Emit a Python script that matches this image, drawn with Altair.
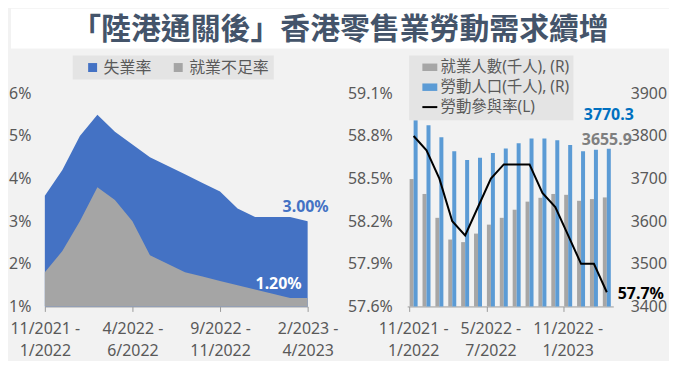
import altair as alt
import pandas as pd

TITLE = "「陸港通關後」香港零售業勞動需求續增"

periods = [
    "11/2021 - 1/2022", "12/2021 - 2/2022", "1/2022 - 3/2022", "2/2022 - 4/2022",
    "3/2022 - 5/2022", "4/2022 - 6/2022", "5/2022 - 7/2022", "6/2022 - 8/2022",
    "7/2022 - 9/2022", "8/2022 - 10/2022", "9/2022 - 11/2022", "10/2022 - 12/2022",
    "11/2022 - 1/2023", "12/2022 - 2/2023", "1/2023 - 3/2023", "2/2023 - 4/2023",
]
unemployment = [3.6, 4.2, 5.0, 5.5, 5.1, 4.8, 4.5, 4.3, 4.1, 3.9, 3.7, 3.3, 3.1, 3.1, 3.1, 3.0]
underemployment = [1.8, 2.3, 3.0, 3.8, 3.5, 3.0, 2.2, 2.0, 1.8, 1.7, 1.6, 1.5, 1.4, 1.3, 1.2, 1.2]
participation = [58.8, 58.7, 58.5, 58.2, 58.1, 58.3, 58.5, 58.6, 58.6, 58.6, 58.4, 58.3, 58.1, 57.9, 57.9, 57.7]
labour_force = [3837, 3825, 3797, 3764, 3744, 3749, 3760, 3771, 3783, 3794, 3794, 3790, 3779, 3764, 3768, 3770.3]
employed = [3699, 3664, 3608, 3557, 3551, 3571, 3592, 3608, 3627, 3646, 3655, 3664, 3662, 3648, 3652, 3655.9]

left_ticks = [periods[0], periods[5], periods[10], periods[15]]
right_ticks = [periods[0], periods[6], periods[12]]
left_y_ticks = [1, 2, 3, 4, 5, 6]
rate_ticks = [57.6, 57.9, 58.2, 58.5, 58.8, 59.1]
count_ticks = [3400, 3500, 3600, 3700, 3800, 3900]

S_UNEMP, S_UNDER = "失業率", "就業不足率"
S_EMP, S_LF, S_RATE = "就業人數(千人), (R)", "勞動人口(千人), (R)", "勞動參與率(L)"

FONT = "'Noto Sans', 'Noto Sans CJK TC', sans-serif"
TXT = "#595959"
AX = "#9a9a9a"
LABEL_EXPR = "split(replace(datum.label, ' - ', ' -|'), '|')"

# left panel: the y labels sit inside the panel so the panel's left edge is the page edge
L_W, L_PLOT0 = 298, 34

# ---------- title ----------
title_df = pd.DataFrame({"t": [TITLE]})
title_chart = alt.Chart(title_df).mark_text(
    font=FONT, fontSize=30, fontWeight="bold", color="#44546a", baseline="middle", dy=1
).encode(text="t:N").properties(
    width=661, height=40, view=alt.ViewBackground(fill="white", strokeOpacity=0)
)

# ---------- left panel ----------
left_df = pd.DataFrame({
    "period": periods * 2,
    "series": [S_UNEMP] * len(periods) + [S_UNDER] * len(periods),
    "value": unemployment + underemployment,
})

xl = alt.X("period:N", sort=periods,
           scale=alt.Scale(type="point", padding=0, range=[L_PLOT0, L_W]),
           axis=alt.Axis(values=left_ticks, labelExpr=LABEL_EXPR, labelAngle=0,
                         labelLineHeight=22, labelPadding=9, tickSize=5,
                         domainColor=AX, tickColor=AX, title=None, grid=False))
yl_axis = alt.Axis(values=left_y_ticks, labelExpr="datum.value + '%'", offset=-L_PLOT0,
                   domain=False, ticks=False, grid=False, title=None, labelPadding=14)
yl = alt.Y("value:Q", scale=alt.Scale(domain=[1, 6], nice=False, zero=False), axis=yl_axis)
color_l = alt.Color("series:N",
                    scale=alt.Scale(domain=[S_UNEMP, S_UNDER], range=["#4472c4", "#a5a5a5"]),
                    legend=alt.Legend(title=None, orient="none", legendX=L_PLOT0 + 28, legendY=-38,
                                      direction="horizontal", fillColor="#e4e4e4",
                                      padding=4, symbolType="square", symbolSize=81,
                                      symbolOffset=8, labelOffset=3,
                                      labelFontSize=16, labelColor=TXT, columnPadding=10,
                                      symbolStrokeWidth=0))

area_u = alt.Chart(left_df).transform_filter(alt.datum.series == S_UNEMP).mark_area().encode(
    x=xl, y=yl, y2=alt.datum(1), color=color_l)
area_g = alt.Chart(left_df).transform_filter(alt.datum.series == S_UNDER).mark_area().encode(
    x=xl, y=yl, y2=alt.datum(1), color=color_l)

last_l = pd.DataFrame({
    "period": [periods[-1], periods[-1]],
    "value": [unemployment[-1], underemployment[-1]],
    "label": [f"{unemployment[-1]:.2f}%", f"{underemployment[-1]:.2f}%"],
})
lab_u = alt.Chart(last_l.iloc[[0]]).mark_text(
    font=FONT, fontSize=16, fontWeight="bold", color="#4472c4", align="center",
    baseline="middle", dx=-2, dy=-14).encode(x=xl, y=yl, text="label:N")
lab_g = alt.Chart(last_l.iloc[[1]]).mark_text(
    font=FONT, fontSize=16, fontWeight="bold", color="white", align="right",
    baseline="middle", dx=-6, dy=-14).encode(x=xl, y=yl, text="label:N")

left = alt.layer(area_u, area_g, lab_u, lab_g).properties(width=L_W, height=214)

# ---------- right panel ----------
bars_df = pd.DataFrame({
    "period": periods * 2,
    "series": [S_EMP] * len(periods) + [S_LF] * len(periods),
    "value": employed + labour_force,
})
rate_df = pd.DataFrame({"period": periods, "series": [S_RATE] * len(periods), "value": participation})

xr = alt.X("period:N", sort=periods,
           scale=alt.Scale(type="band", paddingInner=0.38, paddingOuter=0.19),
           axis=alt.Axis(values=right_ticks, labelExpr=LABEL_EXPR, labelAngle=0,
                         labelLineHeight=22, labelPadding=9, tickSize=5, bandPosition=0,
                         domainColor=AX, tickColor=AX, title=None, grid=False))
count_scale = alt.Scale(domain=[3400, 3900], nice=False, zero=False)
rate_scale = alt.Scale(domain=[57.6, 59.1], nice=False, zero=False)
count_axis = alt.Axis(orient="right", values=count_ticks, format="d", domain=False,
                      ticks=False, grid=False, title=None, labelPadding=17)
rate_axis = alt.Axis(orient="left", values=rate_ticks,
                     labelExpr="format(datum.value, '.1f') + '%'", domain=False,
                     ticks=False, grid=False, title=None, labelPadding=15)

is_line = f"datum.value === '{S_RATE}'"
color_r = alt.Color("series:N",
                    scale=alt.Scale(domain=[S_EMP, S_LF, S_RATE],
                                    range=["#a6a6a6", "#5b9bd5", "#000000"]),
                    legend=alt.Legend(title=None, orient="none", legendX=2, legendY=-38,
                                      direction="vertical", fillColor="#e4e4e4",
                                      padding=4, rowPadding=3, symbolSize=225,
                                      symbolOffset=9, labelOffset=3,
                                      symbolType={"expr": f"{is_line} ? 'stroke' : 'M-1,-0.5H1V0.5H-1Z'"},
                                      symbolStrokeWidth={"expr": f"{is_line} ? 2 : 0"},
                                      labelFontSize=15.5, labelColor=TXT))

bars = alt.Chart(bars_df).mark_bar().encode(
    x=xr,
    xOffset=alt.XOffset("series:N", sort=[S_EMP, S_LF],
                        scale=alt.Scale(paddingInner=0, paddingOuter=0)),
    y=alt.Y("value:Q", scale=count_scale, axis=count_axis),
    y2=alt.datum(3400),
    color=color_r,
)
last_r = pd.DataFrame({
    "period": [periods[-1], periods[-1]],
    "value": [labour_force[-1], employed[-1]],
    "label": [f"{labour_force[-1]:.1f}", f"{employed[-1]:.1f}"],
})
lab_lf = alt.Chart(last_r.iloc[[0]]).mark_text(
    font=FONT, fontSize=16, fontWeight="bold", color="#0070c0", align="center",
    baseline="middle", dx=2, dy=-34).encode(
    x=xr, y=alt.Y("value:Q", scale=count_scale, axis=count_axis), text="label:N")
lab_emp = alt.Chart(last_r.iloc[[1]]).mark_text(
    font=FONT, fontSize=16, fontWeight="bold", color="#7f7f7f", align="center",
    baseline="middle", dx=0, dy=-58).encode(
    x=xr, y=alt.Y("value:Q", scale=count_scale, axis=count_axis), text="label:N")

line = alt.Chart(rate_df).mark_line(strokeWidth=2).encode(
    x=xr,
    y=alt.Y("value:Q", scale=rate_scale, axis=rate_axis),
    color=color_r,
)
last_rate = pd.DataFrame({"period": [periods[-1]], "value": [participation[-1]],
                          "label": [f"{participation[-1]:.1f}%"]})
lab_rate = alt.Chart(last_rate).mark_text(
    font=FONT, fontSize=16, fontWeight="bold", color="#000000", align="left",
    baseline="middle", dx=11, dy=2).encode(
    x=xr, y=alt.Y("value:Q", scale=rate_scale, axis=rate_axis), text="label:N")

right = alt.layer(
    alt.layer(bars, lab_lf, lab_emp),
    alt.layer(line, lab_rate),
).resolve_scale(y="independent").properties(width=207, height=214)

row = alt.hconcat(left, right, spacing=100, bounds="flush").resolve_scale(color="independent")

chart = alt.vconcat(title_chart, row, spacing=7).properties(
    background="#f2f2f2", padding={"left": 0, "top": 0, "right": 0, "bottom": 2}
).configure_view(strokeOpacity=0).configure_axis(
    labelFont=FONT, labelFontSize=16, labelColor=TXT
).configure_legend(labelFont=FONT).configure_text(font=FONT)

chart.save("out.html", embed_options={"renderer": "svg", "actions": False})
